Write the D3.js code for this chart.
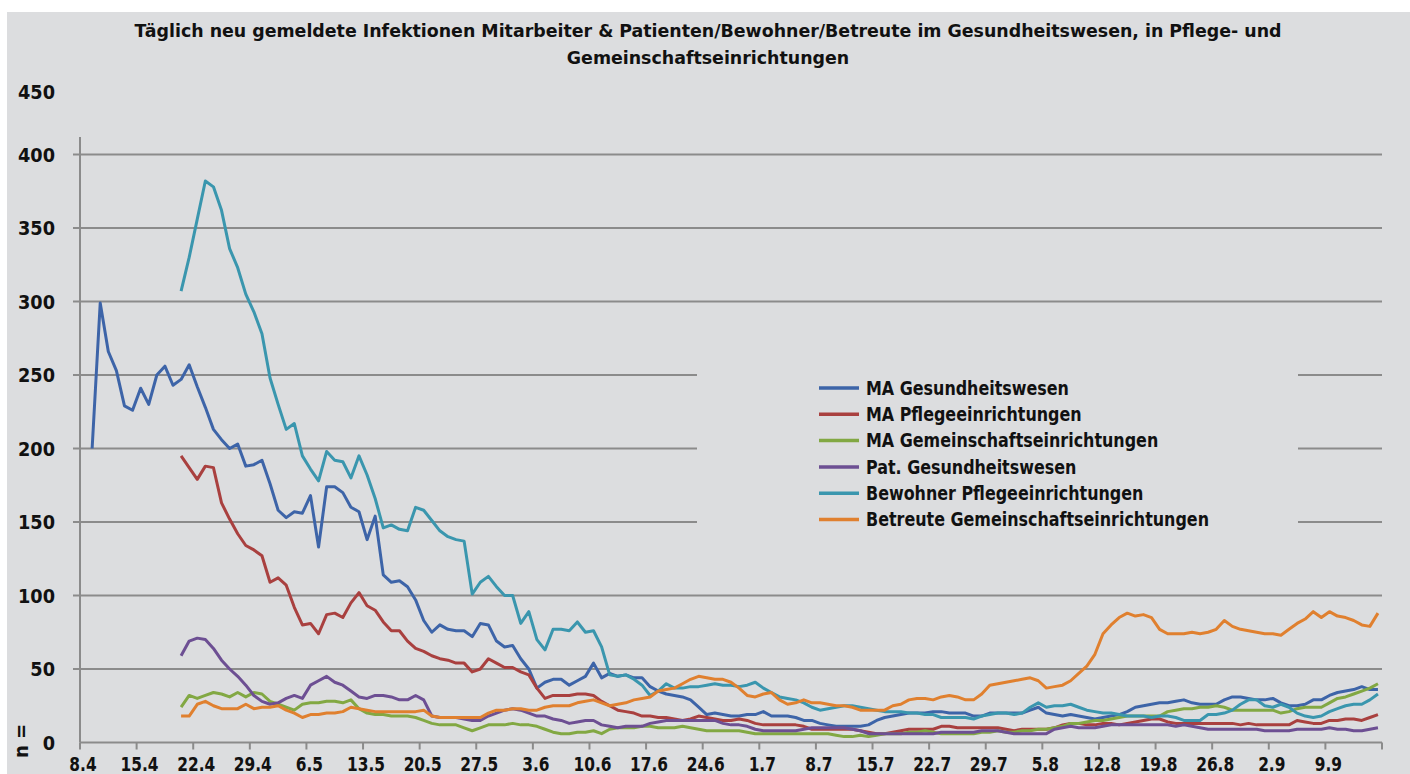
<!DOCTYPE html>
<html>
<head>
<meta charset="utf-8">
<script src="https://cdn.jsdelivr.net/npm/d3@7"></script>
<style>
  body { margin: 0; background: #fff; }
  svg { display: block; }
  text { font-family: "DejaVu Sans Condensed", "DejaVu Sans", sans-serif; font-weight: bold; fill: #111; font-stretch: condensed; }
</style>
</head>
<body>
<svg id="chart" width="1410" height="774"></svg>
<script>

// tick labels, one every 7 days starting 8.4. (day 0)
var tickLabels = ['8.4','15.4','22.4','29.4','6.5','13.5','20.5','27.5','3.6','10.6','17.6','24.6',
                  '1.7','8.7','15.7','22.7','29.7','5.8','12.8','19.8','26.8','2.9','9.9'];
var numDays = 161;   // 8.4. .. 15.9.
var yTicks = [0, 50, 100, 150, 200, 250, 300, 350, 400, 450];

var seriesNames = ['MA Gesundheitswesen', 'MA Pflegeeinrichtungen', 'MA Gemeinschaftseinrichtungen',
                   'Pat. Gesundheitswesen', 'Bewohner Pflegeeinrichtungen', 'Betreute Gemeinschaftseinrichtungen'];
var seriesColors = ['#3d64a8', '#a9403f', '#82a843', '#6d4f93', '#3a96ae', '#e0802f'];
// first day index of each series
var seriesStart = [1, 12, 12, 12, 12, 12];

var maGesund = [200,299,266,253,229,226,241,230,250,256,243,247,257,242,228,213,206,200,203,188,
  189,192,176,158,153,157,156,168,133,174,174,170,160,157,138,154,114,109,110,106,
  97,83,75,80,77,76,76,72,81,80,69,65,66,57,50,37,41,43,43,39,
  42,45,54,44,47,45,46,44,44,38,35,33,32,31,29,24,19,20,19,18,
  18,19,19,21,18,18,18,17,15,15,13,12,11,11,11,11,12,15,17,18,
  19,20,20,20,21,21,20,20,20,18,18,20,20,20,20,20,22,24,20,19,
  18,19,18,17,16,17,18,19,21,24,25,26,27,27,28,29,27,26,26,26,
  29,31,31,30,29,29,30,27,25,25,26,29,29,32,34,35,36,38,36,36];

var maPflege = [195,187,179,188,187,163,152,142,134,131,127,109,112,107,92,80,81,74,87,88,
  85,95,102,93,90,82,76,76,69,64,62,59,57,56,54,54,48,50,57,54,
  51,51,48,46,37,30,32,32,32,33,33,32,28,25,22,21,20,18,18,17,
  17,16,15,16,18,17,16,15,15,16,15,13,12,12,12,12,12,11,9,9,
  9,9,9,9,8,7,6,6,7,8,9,9,9,9,11,11,10,10,10,10,
  10,10,9,8,9,9,9,9,10,12,13,13,12,12,13,13,12,13,14,15,
  16,16,14,13,13,13,13,13,13,13,13,12,13,12,12,12,12,12,15,14,
  13,13,15,15,16,16,15,17,19];

var maGemein = [24,32,30,32,34,33,31,34,31,34,33,28,26,24,22,26,27,27,28,28,
  27,29,23,20,19,19,18,18,18,17,15,13,12,12,12,10,8,10,12,12,
  12,13,12,12,11,9,7,6,6,7,7,8,6,9,10,10,10,11,11,10,
  10,10,11,10,9,8,8,8,8,8,7,6,6,6,6,6,6,6,6,6,
  6,5,4,4,5,4,5,6,6,6,7,7,8,7,6,6,6,6,6,7,
  7,8,7,7,8,8,9,9,10,11,13,13,14,15,15,16,17,18,18,18,
  18,18,21,22,23,23,24,24,25,24,22,22,22,22,22,22,20,21,23,24,
  24,24,27,30,31,33,35,37,40];

var patGesund = [59,69,71,70,64,56,50,45,39,32,28,26,27,30,32,30,39,42,45,41,
  39,35,31,30,32,32,31,29,29,32,29,18,17,17,17,16,15,15,18,20,
  22,23,22,20,18,18,16,15,13,14,15,15,12,11,10,11,11,11,13,14,
  15,15,15,15,15,15,15,13,12,12,11,9,8,8,8,8,8,9,10,10,
  10,10,10,9,8,6,6,6,6,6,6,6,6,6,7,7,7,7,7,8,
  8,8,7,6,6,6,6,6,9,10,11,10,10,10,11,12,12,12,12,12,
  12,12,12,11,12,11,10,9,9,9,9,9,9,9,8,8,8,8,9,9,
  9,9,10,9,9,8,8,9,10];

var bewPflege = [307,330,356,382,378,362,336,323,305,293,278,248,230,213,217,195,186,178,198,192,
  191,180,195,182,166,146,148,145,144,160,158,151,144,140,138,137,101,109,113,106,
  100,100,81,89,70,63,77,77,76,82,75,76,65,46,45,46,43,39,32,35,
  40,37,37,38,38,39,40,39,39,38,39,41,37,34,31,30,29,27,24,22,
  23,24,25,25,24,23,22,21,21,21,20,20,19,19,17,17,17,17,16,18,
  19,20,20,19,20,24,27,24,25,25,26,24,22,21,20,20,19,18,18,18,
  17,18,18,17,15,15,15,19,19,20,22,26,29,29,25,24,26,24,20,18,
  17,18,21,23,25,26,26,29,33];

var betrGemein = [18,18,26,28,25,23,23,23,26,23,24,24,25,22,20,17,19,19,20,20,
  21,24,23,22,21,21,21,21,21,21,22,18,17,17,17,17,17,17,20,22,
  22,23,23,22,22,24,25,25,25,27,28,29,27,25,26,27,29,30,31,35,
  36,37,40,43,45,44,43,43,41,37,32,31,33,34,29,26,27,29,27,27,
  26,25,25,24,22,22,22,22,25,26,29,30,30,29,31,32,31,29,29,33,
  39,40,41,42,43,44,42,37,38,39,42,47,52,60,74,80,85,88,86,87,
  85,77,74,74,74,75,74,75,77,83,79,77,76,75,74,74,73,77,81,84,
  89,85,89,86,85,83,80,79,88];

var seriesValues = [maGesund, maPflege, maGemein, patGesund, bewPflege, betrGemein];

var bg = '#dcdddf';
var gridColor = '#8b8b8b';

var svg = d3.select('#chart');

svg.append('rect')
    .attr('x', 7).attr('y', 12)
    .attr('width', 1403).attr('height', 762)
    .attr('fill', bg);

var x = d3.scaleLinear()
    .domain([0, numDays])
    .range([80, 1382]);

var y = d3.scaleLinear()
    .domain([0, 400])
    .range([742.5, 154.5]);

// squeeze a group of labels so that a reference label gets the wanted width
function condense(sel, refText, refWidth) {
    var probe = svg.append('text').attr('class', 'probe')
        .style('font-size', sel.style('font-size'))
        .text(refText);
    var k = refWidth / probe.node().getComputedTextLength();
    probe.remove();
    sel.each(function() {
        var w = this.getComputedTextLength();
        d3.select(this).attr('textLength', w * k).attr('lengthAdjust', 'spacingAndGlyphs');
    });
}

// gridlines
svg.append('g')
    .selectAll('line')
    .data(yTicks.filter(function(d) { return d > 0 && d <= 400; }))
  .enter().append('line')
    .attr('x1', 73).attr('x2', x(numDays))
    .attr('y1', function(d) { return y(d); })
    .attr('y2', function(d) { return y(d); })
    .attr('stroke', gridColor)
    .attr('stroke-width', 2);

// blank area behind the legend
svg.append('rect')
    .attr('x', 697).attr('y', 350)
    .attr('width', 601).attr('height', 190)
    .attr('fill', bg);

// y axis
svg.append('line')
    .attr('x1', x(0)).attr('x2', x(0))
    .attr('y1', y(0)).attr('y2', 137)
    .attr('stroke', gridColor).attr('stroke-width', 2);

var yLabels = svg.append('g')
    .selectAll('text')
    .data(yTicks)
  .enter().append('text')
    .attr('x', 55)
    .attr('y', function(d) { return d === 450 ? 92 : y(d); })
    .attr('dy', '0.36em')
    .attr('text-anchor', 'end')
    .style('font-size', '20px')
    .text(function(d) { return d; });
condense(yLabels, '100', 37);

svg.append('text')
    .attr('transform', 'translate(28,741) rotate(-90)')
    .attr('text-anchor', 'middle')
    .style('font-size', '20px')
    .text('n =');

// x axis
svg.append('line')
    .attr('x1', x(0)).attr('x2', x(numDays))
    .attr('y1', y(0)).attr('y2', y(0))
    .attr('stroke', gridColor).attr('stroke-width', 2);

var tickDays = d3.range(0, numDays + 1, 7);
svg.append('g')
    .selectAll('line')
    .data(tickDays)
  .enter().append('line')
    .attr('x1', function(d) { return x(d); })
    .attr('x2', function(d) { return x(d); })
    .attr('y1', y(0)).attr('y2', y(0) + 7)
    .attr('stroke', gridColor).attr('stroke-width', 2);

var xLabels = svg.append('g')
    .selectAll('text')
    .data(tickLabels)
  .enter().append('text')
    .attr('x', function(d, i) { return x(i * 7) + 3; })
    .attr('y', 771)
    .attr('text-anchor', 'middle')
    .style('font-size', '19px')
    .text(function(d) { return d; });
condense(xLabels, '22.4', 38);

// lines
var line = d3.line()
    .x(function(d) { return x(d.day + 0.5); })
    .y(function(d) { return y(d.value); });

seriesValues.forEach(function(vals, s) {
    var pts = vals.map(function(v, i) { return { day: seriesStart[s] + i, value: v }; });
    svg.append('path')
        .datum(pts)
        .attr('fill', 'none')
        .attr('stroke', seriesColors[s])
        .attr('stroke-width', 3)
        .attr('stroke-linejoin', 'round')
        .attr('d', line);
});

// legend
var legend = svg.append('g')
    .selectAll('g')
    .data(seriesNames)
  .enter().append('g')
    .attr('transform', function(d, i) { return 'translate(819,' + (388 + i * 26.3) + ')'; });

legend.append('line')
    .attr('x1', 0).attr('x2', 40)
    .attr('stroke', function(d, i) { return seriesColors[i]; })
    .attr('stroke-width', 3.5);

var legendText = legend.append('text')
    .attr('x', 47)
    .attr('dy', '0.36em')
    .style('font-size', '19px')
    .text(function(d) { return d; });
condense(legendText, seriesNames[5], 343);

// title
var title = svg.append('g')
    .selectAll('text')
    .data(['Täglich neu gemeldete Infektionen Mitarbeiter & Patienten/Bewohner/Betreute im Gesundheitswesen, in Pflege- und',
           'Gemeinschaftseinrichtungen'])
  .enter().append('text')
    .attr('x', 708)
    .attr('y', function(d, i) { return 37 + i * 27; })
    .attr('text-anchor', 'middle')
    .style('font-size', '18.5px')
    .text(function(d) { return d; });
condense(title, title.data()[0], 1147);

</script>
</body>
</html>
